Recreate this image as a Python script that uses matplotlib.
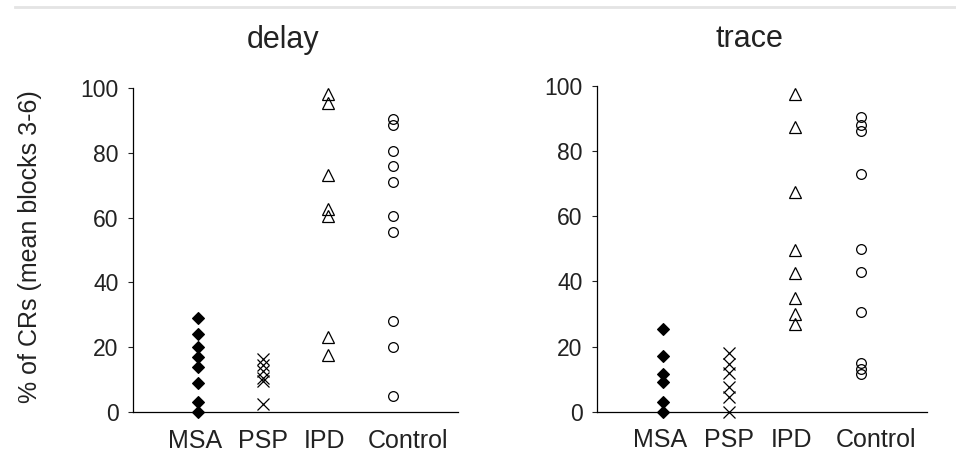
import matplotlib
matplotlib.use("Agg")
import matplotlib.pyplot as plt
from matplotlib.lines import Line2D

groups = ["MSA", "PSP", "IPD", "Control"]

# delay conditioning, % CRs per subject
delay_msa = [29, 24, 20, 17, 14, 9, 3, 0]
delay_psp = [16.5, 14.5, 12.5, 10.5, 9.5, 2.5]
delay_ipd = [98, 95.5, 73, 62.5, 60.5, 23, 17.5]
delay_control = [90.5, 88.5, 80.5, 76, 71, 60.5, 55.5, 28, 20, 5]

# trace conditioning
trace_msa = [25.5, 17, 11.5, 9, 3, 0]
trace_psp = [18, 14.5, 12, 7.5, 4.5, 0]
trace_ipd = [97.5, 87.5, 67.5, 49.5, 42.5, 35, 30, 27]
trace_control = [90.5, 88, 86, 73, 50, 43, 30.5, 15, 13, 11.5]

yticks = [0, 20, 40, 60, 80, 100]

plt.rcParams["font.family"] = ["Liberation Sans", "DejaVu Sans"]

styles = [
    dict(marker="D", ms=6, mfc="black", mec="black", mew=0.8),
    dict(marker="x", ms=8.5, mfc="none", mec="black", mew=0.9),
    dict(marker="^", ms=8, mfc="none", mec="black", mew=0.9),
    dict(marker="o", ms=7, mfc="none", mec="black", mew=0.9),
]
label_shift = [-0.05, 0.0, -0.05, 0.23]

fig = plt.figure(figsize=(9.56, 4.59), dpi=100)
ax1 = fig.add_axes([0.1391, 0.1024, 0.340, 0.706])
ax2 = fig.add_axes([0.6245, 0.1030, 0.345, 0.710])

panels = [
    (ax1, [delay_msa, delay_psp, delay_ipd, delay_control]),
    (ax2, [trace_msa, trace_psp, trace_ipd, trace_control]),
]

for ax, data in panels:
    for i, vals in enumerate(data):
        ax.plot([i + 1] * len(vals), vals, linestyle="none", clip_on=False,
                **styles[i])
    ax.set_xlim(0, 5)
    ax.set_ylim(0, 100)
    ax.spines["top"].set_visible(False)
    ax.spines["right"].set_visible(False)
    ax.spines["left"].set_linewidth(0.9)
    ax.spines["bottom"].set_linewidth(0.9)
    ax.set_yticks(yticks)
    ax.set_yticklabels([str(t) for t in yticks], fontsize=16.5)
    ax.tick_params(axis="y", direction="out", length=3.5, width=0.8, pad=7,
                   colors="#222222")
    ax.set_xticks([i + 1 + s for i, s in enumerate(label_shift)])
    ax.set_xticklabels(groups, fontsize=18)
    ax.tick_params(axis="x", length=0, pad=12, colors="#222222")

fig.text(283 / 956, 1 - 48 / 459, "delay", ha="center", va="baseline",
         fontsize=22, color="#222222")
fig.text(749 / 956, 1 - 47 / 459, "trace", ha="center", va="baseline",
         fontsize=22, color="#222222")
fig.text(30 / 956, 1 - 247 / 459, "% of CRs (mean blocks 3-6)", rotation=90,
         ha="center", va="center", fontsize=18, color="#222222")

# faint rule at the top edge
fig.add_artist(Line2D([15 / 956, 1], [1 - 7 / 459, 1 - 7 / 459],
                      transform=fig.transFigure, color="#e4e4e4", lw=2))

fig.savefig("out.png", dpi=100, facecolor="white")
